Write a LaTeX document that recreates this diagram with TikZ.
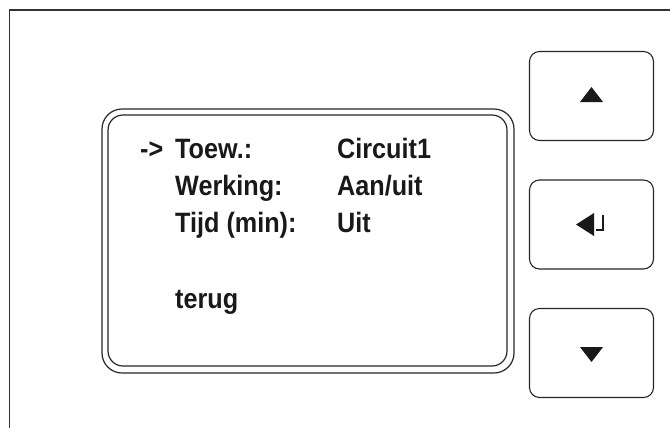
\documentclass[tikz,border=0pt]{standalone}
\usepackage{fontspec}
\setmainfont{Liberation Sans}[FakeStretch=0.9]
\begin{document}
\begin{tikzpicture}[x=1bp,y=-1bp,
  frame/.style={draw=black!80,line width=1.6bp},
  screen/.style={draw=black!85,line width=1.2bp},
  key/.style={draw=black!85,line width=1.1bp,rounded corners=10bp},
  txt/.style={anchor=base west,inner sep=0pt,font=\bfseries\fontsize{28bp}{32bp}\selectfont,text=black!90},
  sym/.style={fill=black!90,draw=none}]
\useasboundingbox (0,0) rectangle (670,428);
% outer frame
\coordinate (fb) at (9.5,428);
\coordinate (ft) at (9.5,10);
\coordinate (fr) at (670,10);
\draw[frame] (fb) -- (ft) -- (fr);
% screen
\draw[screen,rounded corners=20bp] (102,109) rectangle (514,373);
\draw[screen,rounded corners=15bp] (108,115) rectangle (507,366);
% text
\node[txt] (arr) at (140,158) {->};
\node[txt] (l1) at (175,158) {Toew.:};
\node[txt] (v1) at (337,158) {Circuit1};
\node[txt] (l2) at (175,195) {Werking:};
\node[txt] (v2) at (337,195) {Aan/uit};
\node[txt] (l3) at (175,232) {Tijd (min):};
\node[txt] (v3) at (337,232) {Uit};
\node[txt] (l4) at (175,308) {terug};
% keys
\draw[key] (529.5,51.5) rectangle (653.5,140.5);
\draw[key] (529.5,180) rectangle (653.5,269);
\draw[key] (529.5,308.5) rectangle (653.5,397.5);
% symbols
\fill[sym] (580,102) -- (603,102) -- (591.5,87) -- cycle;
\fill[sym] (580,347) -- (603,347) -- (591.5,362) -- cycle;
\fill[sym] (594,213) -- (594,236) -- (576,224.5) -- cycle;
\draw[black!90,line width=2bp] (596,229.5) -- (603,229.5) -- (603,215);
\end{tikzpicture}
\end{document}
